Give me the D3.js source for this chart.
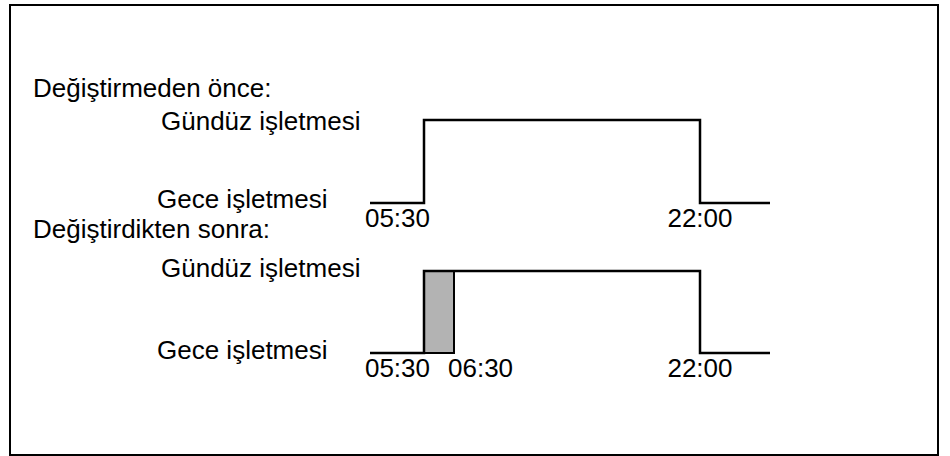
<!DOCTYPE html>
<html>
<head>
<meta charset="utf-8">
<script src="https://cdn.jsdelivr.net/npm/d3@7"></script>
<style>
	body { margin: 0; background: #fff; }
	text { font-family: "Liberation Sans", Arial, sans-serif; fill: #000; }
</style>
</head>
<body>
<script>
// switch times (hours) and what the mode is after each switch
let levels = ["Gündüz işletmesi", "Gece işletmesi"];
let beforeTimes = [5.5, 22];
let beforeModes = ["Gündüz işletmesi", "Gece işletmesi"];
let beforeLabels = ["05:30", "22:00"];
let afterTimes = [5.5, 6.5, 22];
let afterModes = ["Gündüz işletmesi", "Gündüz işletmesi", "Gece işletmesi"];
let afterLabels = ["05:30", "06:30", "22:00"];
let transition = [5.5, 6.5];   // shaded change-over window
let titles = ["Değiştirmeden önce:", "Değiştirdikten sonra:"];
let dayStart = 4, dayEnd = 24;

let width = 950, height = 456;

let svg = d3.select("body").append("svg")
	.attr("width", width)
	.attr("height", height);

// outer frame
svg.append("rect")
	.attr("x", 10).attr("y", 5)
	.attr("width", 928).attr("height", 450)
	.attr("fill", "none")
	.attr("stroke", "#000")
	.attr("stroke-width", 2);

// x is not proportional to hours in the picture, so piecewise scale
let xScale = d3.scaleLinear()
	.domain([dayStart, 5.5, 6.5, 22, dayEnd])
	.range([370, 424, 454, 700, 770]);

let panels = [
	{title: titles[0], times: beforeTimes, modes: beforeModes, labels: beforeLabels,
		top: 120, bottom: 203, titleY: 97, dayDy: 10, nightDy: 5, tickY: 227},
	{title: titles[1], times: afterTimes, modes: afterModes, labels: afterLabels, shade: transition,
		top: 271, bottom: 353, titleY: 238, dayDy: 6, nightDy: 6, tickY: 377}
];

let anchors = {"05:30": ["end", 6], "06:30": ["start", -6], "22:00": ["middle", 0]};

panels.forEach(function(p) {
	let yScale = d3.scalePoint().domain(levels).range([p.top, p.bottom]);

	svg.append("text")
		.attr("x", 33).attr("y", p.titleY)
		.attr("font-size", 26)
		.text(p.title);

	svg.append("text")
		.attr("x", 161).attr("y", yScale(levels[0]) + p.dayDy)
		.attr("font-size", 26)
		.text(levels[0]);
	svg.append("text")
		.attr("x", 157).attr("y", yScale(levels[1]) + p.nightDy)
		.attr("font-size", 26)
		.text(levels[1]);

	// shaded window
	if (p.shade) {
		svg.append("rect")
			.attr("x", xScale(p.shade[0]))
			.attr("y", yScale(levels[0]))
			.attr("width", xScale(p.shade[1]) - xScale(p.shade[0]))
			.attr("height", yScale(levels[1]) - yScale(levels[0]))
			.attr("fill", "#b3b3b3")
			.attr("stroke", "#000")
			.attr("stroke-width", 2);
	}

	// step line: night before first switch, then modes after each switch
	let pts = [{t: dayStart, m: levels[1]}];
	p.times.forEach(function(t, i) { pts.push({t: t, m: p.modes[i]}); });
	pts.push({t: dayEnd, m: p.modes[p.modes.length - 1]});

	let line = d3.line()
		.curve(d3.curveStepAfter)
		.x(function(d) { return xScale(d.t); })
		.y(function(d) { return yScale(d.m); });

	svg.append("path")
		.datum(pts)
		.attr("d", line)
		.attr("fill", "none")
		.attr("stroke", "#000")
		.attr("stroke-width", 2.5);

	svg.selectAll(null)
		.data(p.times)
		.enter().append("text")
			.attr("font-size", 26)
			.attr("text-anchor", function(d, i) { return anchors[p.labels[i]][0]; })
			.attr("x", function(d, i) { return xScale(d) + anchors[p.labels[i]][1]; })
			.attr("y", p.tickY)
			.text(function(d, i) { return p.labels[i]; });
});
</script>
</body>
</html>
